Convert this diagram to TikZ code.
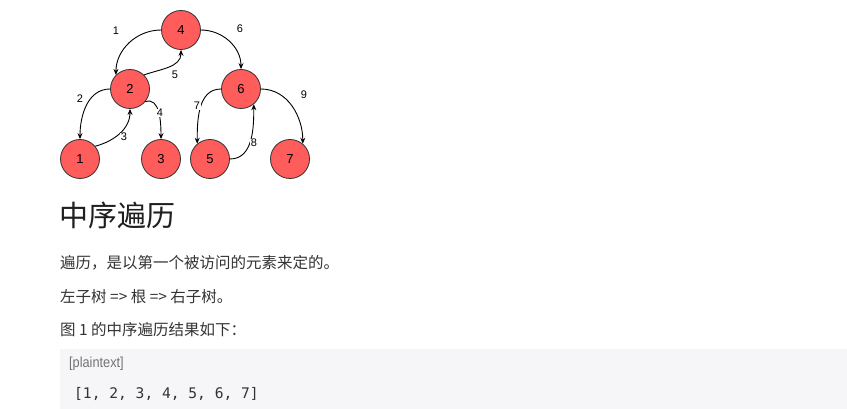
\documentclass[tikz,border=0pt]{standalone}
\usepackage{fontspec}
\setmainfont{Liberation Sans}
\setmonofont{DejaVu Sans Mono}
\newfontfamily\cjk{Noto Sans CJK SC}
\usetikzlibrary{arrows.meta}
\definecolor{vertred}{HTML}{FF5C5C}
\definecolor{bodytext}{HTML}{333333}
\definecolor{codebg}{HTML}{F6F6F8}
\begin{document}
\begin{tikzpicture}[
    x=1pt, y=-1pt,
    vert/.style={circle, draw=black!80, line width=.8pt, fill=vertred,
      minimum size=39pt, inner sep=0pt, font=\fontsize{13}{13}\selectfont},
    walk/.style={line width=.9pt, -{Stealth[length=6pt,width=5pt]}},
    lbl/.style={fill=white, inner sep=.6pt, font=\fontsize{11}{11}\selectfont},
    txt/.style={anchor=west, inner sep=0pt, text=bodytext,
      font=\cjk\fontsize{15.5}{15.5}\selectfont}]
    \useasboundingbox (0,0) rectangle (847,409);
    \fill[white] (0,0) rectangle (847,409);

    % Los siete vertices del arbol.
    \node[vert] (n4) at (181,30) {4};
    \node[vert] (n2) at (130,89) {2};
    \node[vert] (n6) at (241,89) {6};
    \node[vert] (n1) at (80,159) {1};
    \node[vert] (n3) at (161,159) {3};
    \node[vert] (n5) at (210,159) {5};
    \node[vert] (n7) at (290,159) {7};

    % Recorrido, en orden de visita.
    \draw[walk] (n4.west) to[out=180,in=90] (n2.135);
    \draw[walk] (n2.west) to[out=180,in=90] (n1.north);
    \draw[walk] (n1.40) to[out=15,in=-90] (n2.south);
    \draw[walk] (n2.-40) to[out=20,in=90] (n3.north);
    \draw[walk] (n2.45) to[out=20,in=-90] (n4.south);
    \draw[walk] (n4.east) to[out=0,in=90] (n6.north);
    \draw[walk] (n6.west) to[out=180,in=90] (n5.130);
    \draw[walk] (n5.east) to[out=0,in=-90] (n6.-50);
    \draw[walk] (n6.east) to[out=0,in=90] (n7.50);

    % Numeros de los pasos.
    \node[lbl] (l1) at (116,31) {1};
    \node[lbl] (l2) at (80,99) {2};
    \node[lbl] (l3) at (124,137) {3};
    \node[lbl] (l4) at (160,113) {4};
    \node[lbl] (l5) at (175,75) {5};
    \node[lbl] (l6) at (240,29) {6};
    \node[lbl] (l7) at (197,106) {7};
    \node[lbl] (l8) at (254,143) {8};
    \node[lbl] (l9) at (304,95) {9};

    % Titulo y texto.
    \node[txt, text=black!88, font=\cjk\fontsize{29}{29}\selectfont]
      (title) at (59,215) {中序遍历};
    \node[txt] (line1) at (60,263) {遍历，是以第一个被访问的元素来定的。};
    \node[txt] (line2) at (60,297) {左子树 => 根 => 右子树。};
    \node[txt] (line3) at (60,330) {图 1 的中序遍历结果如下：};

    % Bloque de codigo.
    \fill[codebg] (60,349) rectangle (847,409);
    \node[anchor=west, inner sep=0pt, text=black!55, xscale=.88,
      font=\fontsize{14.5}{14.5}\selectfont] (lang) at (69,364) {[plaintext]};
    \node[anchor=west, inner sep=0pt, text=bodytext,
      font=\ttfamily\fontsize{14.6}{14.6}\selectfont] (code) at (74,394)
      {[1, 2, 3, 4, 5, 6, 7]};
\end{tikzpicture}
\end{document}
